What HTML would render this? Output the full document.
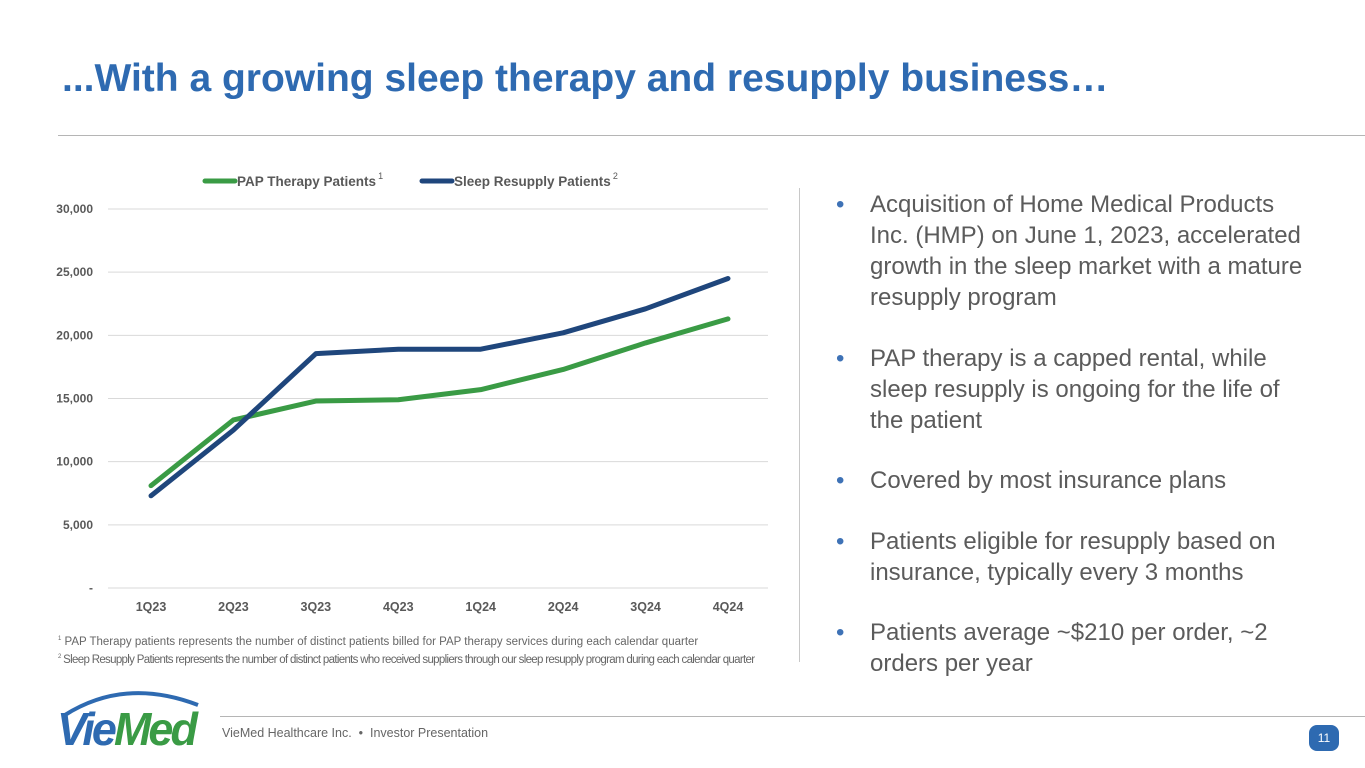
<!DOCTYPE html>
<html><head><meta charset="utf-8"><style>
body{margin:0;width:1365px;height:768px;background:#fff;font-family:"Liberation Sans",sans-serif;overflow:hidden;position:relative}
.abs{position:absolute}
ul{margin:0;padding:0;list-style:none}
li{position:relative;padding-left:34px;margin-bottom:29.5px;font-size:24px;line-height:31px;color:#5b5b5b}
li:before{content:"•";position:absolute;left:0;color:#3e72b6}
</style></head><body>
<div class="abs" style="left:62px;top:57px;font-size:39px;font-weight:bold;color:#2e6ab1">...With a growing sleep therapy and resupply business…</div>
<div class="abs" style="left:58px;top:135px;width:1307px;height:1px;background:#b5b5b5"></div>
<div class="abs" style="left:799px;top:188px;width:1px;height:474px;background:#c8c8c8"></div>
<svg class="abs" style="left:0;top:0" width="800" height="680" id="chart"></svg>
<div class="abs" style="left:58px;top:636px;font-size:11.5px;color:#666"><sup style="font-size:6px">1</sup> PAP Therapy patients represents the number of distinct patients billed for PAP therapy services during each calendar quarter</div>
<div class="abs" style="left:58px;top:654px;font-size:11.5px;color:#666;letter-spacing:-0.68px"><sup style="font-size:6px">2</sup> Sleep Resupply Patients represents the number of distinct patients who received suppliers through our sleep resupply program during each calendar quarter</div>
<ul class="abs" style="left:836px;top:189px;width:475px">
<li>Acquisition of Home Medical Products Inc. (HMP) on June 1, 2023, accelerated growth in the sleep market with a mature resupply program</li>
<li>PAP therapy is a capped rental, while sleep resupply is ongoing for the life of the patient</li>
<li>Covered by most insurance plans</li>
<li>Patients eligible for resupply based on insurance, typically every 3 months</li>
<li>Patients average ~$210 per order, ~2 orders per year</li>
</ul>
<svg class="abs" style="left:55px;top:685px" width="150" height="65">
<path d="M10 30 Q70 -8 143 20" stroke="#2e6ab1" stroke-width="4" fill="none"/>
<text x="2" y="60" font-family="Liberation Sans" font-style="italic" font-weight="bold" font-size="46" fill="#2e6ab1" letter-spacing="-3" textLength="138" lengthAdjust="spacingAndGlyphs">Vie<tspan fill="#3a9b45">Med</tspan></text>
</svg>
<div class="abs" style="left:220px;top:716px;width:1145px;height:1px;background:#b5b5b5"></div>
<div class="abs" style="left:222px;top:726px;font-size:12.5px;color:#666">VieMed Healthcare Inc. &nbsp;•&nbsp; Investor Presentation</div>
<div class="abs" style="left:1309px;top:725px;width:30px;height:26px;border-radius:8px;background:#2e6ab1;color:#fff;font-size:12px;line-height:26px;text-align:center">11</div>
<script>
const categories=["1Q23","2Q23","3Q23","4Q23","1Q24","2Q24","3Q24","4Q24"];
const papValues=[8100,13300,14800,14900,15700,17300,19400,21300];
const sleepValues=[7300,12500,18550,18900,18900,20200,22100,24500];
const yTicks=[0,5000,10000,15000,20000,25000,30000];
const yTickLabels=["-","5,000","10,000","15,000","20,000","25,000","30,000"];
const svg=document.getElementById('chart');const NS="http://www.w3.org/2000/svg";
const x=i=>151+i*(728-151)/(categories.length-1);
const y=v=>588-v/30000*379;
function mk(t,a,txt,parent){const e=document.createElementNS(NS,t);for(const k in a)e.setAttribute(k,a[k]);if(txt!==undefined)e.textContent=txt;(parent||svg).appendChild(e);return e;}
yTicks.forEach((t,i)=>{
 const g=mk('line',{x1:108,x2:768,y1:y(t),y2:y(t),stroke:'#d9d9d9','stroke-width':1});
 
 
 const l=mk('text',{x:93,y:y(t)+4,'text-anchor':'end','font-size':12,'font-weight':'bold',fill:'#595959','font-family':'Liberation Sans'},yTickLabels[i]);
 
 
});
categories.forEach((c,i)=>{
 const l=mk('text',{x:x(i),y:611,'text-anchor':'middle','font-size':12.5,'font-weight':'bold',fill:'#595959','font-family':'Liberation Sans'},c);
 
 
});
function series(vals,color,name){
 const p=mk('polyline',{points:vals.map((v,i)=>x(i)+','+y(v)).join(' '),fill:'none',stroke:color,'stroke-width':5,'stroke-linejoin':'round','stroke-linecap':'round'});
 
 
}
series(papValues,'#3a9b45','pap-therapy-line');
series(sleepValues,'#1f467c','sleep-resupply-line');
const lg=[[205,'#3a9b45','PAP Therapy Patients','1','legend-pap'],[422,'#1f467c','Sleep Resupply Patients','2','legend-sleep']];
lg.forEach(d=>{
 const ln=mk('line',{x1:d[0],x2:d[0]+30,y1:181,y2:181,stroke:d[1],'stroke-width':5,'stroke-linecap':'round'});
 
 
 const t=mk('text',{x:d[0]+32,y:186,'font-size':13.5,'font-weight':'bold',fill:'#595959','font-family':'Liberation Sans'},d[2]);
 
 
 mk('tspan',{dx:2,dy:-7,'font-size':9,'font-weight':'normal'},d[3],t);
});
</script>
</body></html>
